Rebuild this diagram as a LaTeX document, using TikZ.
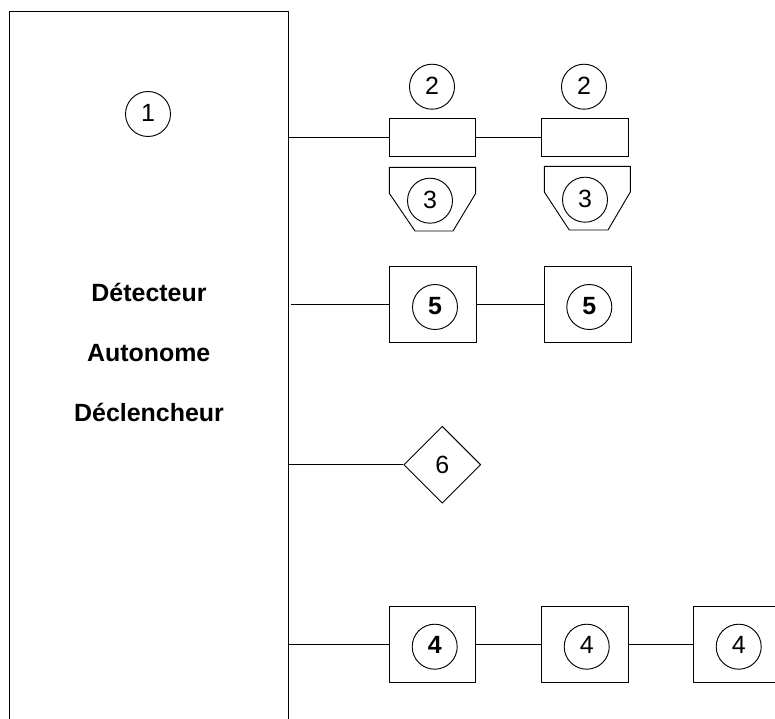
\documentclass[tikz,border=0pt]{standalone}
\usepackage{fontspec}
\setmainfont{Liberation Sans}
\usetikzlibrary{shapes.geometric}
\tikzset{
  px/.style={x=0.75pt,y=-0.75pt},
  ink/.style={draw=black,line width=0.7pt},
  numfont/.style={font=\fontsize{18.7}{22}\selectfont},
  num/.style={ink,circle,numfont,minimum size=33.75pt,inner sep=0pt,text depth=2pt},
  numbold/.style={num,font=\fontsize{18.7}{22}\selectfont\bfseries},
  slim/.style={ink,rectangle,minimum width=64.9pt,minimum height=28.5pt,inner sep=0pt},
  squarebox/.style={ink,rectangle,minimum width=64.9pt,minimum height=57pt,inner sep=0pt},
  losange/.style={ink,diamond,minimum width=57.7pt,minimum height=57.7pt,inner sep=0pt,numfont},
  title/.style={anchor=base,inner sep=0pt,font=\fontsize{18.7}{22}\selectfont\bfseries},
  link/.style={ink}
}
\begin{document}
\begin{tikzpicture}[px]
\useasboundingbox (0,0) rectangle (775,718);
\clip (0,0) rectangle (775,718);
\fill[white] (0,0) rectangle (775,718);
% main block, running off the bottom edge
\node[ink,rectangle,inner sep=0pt,minimum width=209.25pt,minimum height=540pt,anchor=north west] (main) at (8.8,10.5) {};
\node[num] (n1) at (148,114) {1};
\node[title] (t1) at (149,301.7) {Détecteur};
\node[title] (t2) at (148.7,361.7) {Autonome};
\node[title] (t3) at (149,421.7) {Déclencheur};
% row 2
\node[slim] (r1) at (432.5,137.3) {};
\node[slim] (r2) at (584.8,137.3) {};
\node[num] (c21) at (432,86.7) {2};
\node[num] (c22) at (584,86.7) {2};
\draw[link] (r1.west) -- (r1.west -| main.east);
\draw[link] (r1.east) -- (r2.west);
% row 3
\draw[ink,line join=miter] (389.3,167.3) -- (475.7,167.3) -- (475.7,193.3) -- (453,231) -- (415,231) -- (389.3,193.3) -- cycle;
\draw[ink,line join=miter] (544.3,166.3) -- (630.3,166.3) -- (630.3,192) -- (608,230) -- (569.3,230) -- (544.3,192) -- cycle;
\node[num] (c31) at (430,200.7) {3};
\node[num] (c32) at (585,199.7) {3};
% row 5
\coordinate (s5) at (291,304.3);
\node[squarebox] (b51) at (433.2,304.3) {};
\node[squarebox] (b52) at (587.7,304.3) {};
\node[numbold] (c51) at (435,307) {5};
\node[numbold] (c52) at (589.3,307) {5};
\draw[link] (s5) -- (b51.west);
\draw[link] (b51.east) -- (b52.west);
% row 6
\node[losange] (d6) at (442.3,464.7) {6};
\draw[link] (d6.west) -- (d6.west -| main.east);
% row 4
\node[squarebox] (b41) at (432.5,644) {};
\node[squarebox] (b42) at (584.8,644) {};
\node[squarebox] (b43) at (737,644) {};
\node[numbold] (c41) at (434.7,646.7) {4};
\node[num] (c42) at (586.7,646.7) {4};
\node[num] (c43) at (738.7,646.7) {4};
\draw[link] (b41.west) -- (b41.west -| main.east);
\draw[link] (b41.east) -- (b42.west);
\draw[link] (b42.east) -- (b43.west);
\end{tikzpicture}
\end{document}
